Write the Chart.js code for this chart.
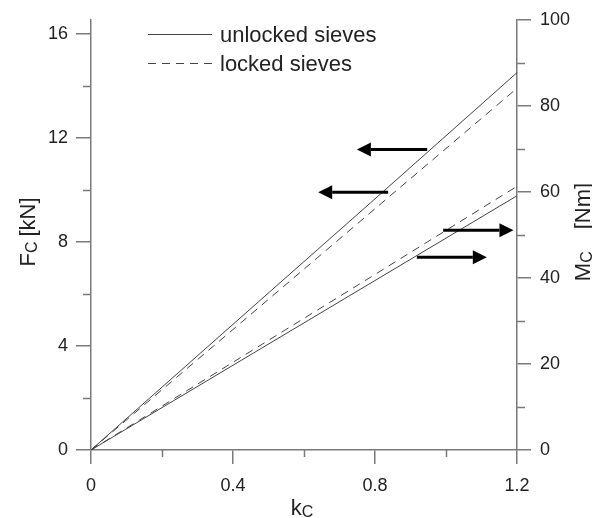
<!DOCTYPE html>
<html>
<head>
<meta charset="utf-8">
<script src="https://cdn.jsdelivr.net/npm/chart.js@4.4.1/dist/chart.umd.min.js"></script>
<style>
    html, body { margin: 0; padding: 0; background: #fff; }
    canvas { display: block; }
</style>
</head>
<body>
<canvas id="grafica" width="592" height="518"></canvas>
<script>
// kc values and read-off forces / moments
const kc = [0, 0.4, 0.8, 1.2];
const fcUnlocked = [0, 4.83, 9.65, 14.5];
const fcLocked = [0, 4.63, 9.27, 13.9];
const mcUnlocked = [0, 19.7, 39.4, 59.1];
const mcLocked = [0, 20.4, 40.8, 61.3];

// axis ranges
const fcMax = 16.53;
const mcMax = 100;
const kcMax = 1.2;

// arrows: which axis each curve pair belongs to
const arrowTail = [0.947, 0.837, 0.992, 0.918];
const arrowTip = [0.749, 0.640, 1.190, 1.115];
const arrowLevel = [11.55, 9.90, 51.1, 44.8];
const arrowAxis = ["yF", "yF", "yM", "yM"];

const LINE = "#444";
const AXIS = "#7a7a7a";
const TEXT = "#222";
const FONT = "'Liberation Sans', Arial, sans-serif";

function puntos(ys) {
    return kc.map((k, i) => ({ x: k, y: ys[i] }));
}

// small ticks between the labelled ones
const minorTicks = {
    id: "minorTicks",
    afterDraw(chart) {
        const ctx = chart.ctx;
        const area = chart.chartArea;
        ctx.save();
        ctx.strokeStyle = AXIS;
        ctx.lineWidth = 1.5;
        const conf = [
            { id: "x", len: 7 },
            { id: "yF", len: 8 },
            { id: "yM", len: 8 },
        ];
        conf.forEach((c) => {
            const s = chart.scales[c.id];
            const t = s.ticks.map((tk) => tk.value);
            for (let i = 0; i < t.length - 1; i++) {
                const v = (t[i] + t[i + 1]) / 2;
                const p = Math.round(s.getPixelForValue(v)) + 0.5;
                ctx.beginPath();
                if (c.id === "x") {
                    ctx.moveTo(p, area.bottom);
                    ctx.lineTo(p, area.bottom + c.len);
                } else if (c.id === "yF") {
                    ctx.moveTo(area.left, p);
                    ctx.lineTo(area.left - c.len, p);
                } else {
                    ctx.moveTo(area.right, p);
                    ctx.lineTo(area.right + c.len, p);
                }
                ctx.stroke();
            }
        });
        ctx.restore();
    },
};

// text with a small subscript, optionally rotated
function textoSub(ctx, main, sub, rest, x, y, rot, size, gap) {
    ctx.save();
    ctx.translate(x, y);
    ctx.rotate(rot);
    ctx.fillStyle = TEXT;
    ctx.textBaseline = "alphabetic";
    ctx.textAlign = "left";
    const subSize = Math.round(size * 0.72);
    ctx.font = size + "px " + FONT;
    const w1 = ctx.measureText(main).width;
    const w3 = ctx.measureText(rest).width;
    ctx.font = subSize + "px " + FONT;
    const w2 = ctx.measureText(sub).width;
    const total = w1 + w2 + (rest ? gap + w3 : 0);
    let cx = -total / 2;
    ctx.font = size + "px " + FONT;
    ctx.fillText(main, cx, 0);
    cx += w1;
    ctx.font = subSize + "px " + FONT;
    ctx.fillText(sub, cx, 2);
    cx += w2 + gap;
    if (rest) {
        ctx.font = size + "px " + FONT;
        ctx.fillText(rest, cx, 0);
    }
    ctx.restore();
}

const titulos = {
    id: "titulos",
    afterDraw(chart) {
        const ctx = chart.ctx;
        textoSub(ctx, "F", "C", "[kN]", 35, 232, -Math.PI / 2, 22, 5);
        textoSub(ctx, "M", "C", "[Nm]", 590, 232, -Math.PI / 2, 22, 22);
        textoSub(ctx, "k", "C", "", 302, 515, 0, 22, 0);
    },
};

const leyenda = {
    id: "leyenda",
    afterDraw(chart) {
        const ctx = chart.ctx;
        const items = chart.data.datasets.filter((d) => d.enLeyenda);
        ctx.save();
        items.forEach((d, i) => {
            const y = 34.5 + i * 29;
            ctx.strokeStyle = LINE;
            ctx.lineWidth = 1;
            ctx.setLineDash(d.borderDash || []);
            ctx.beginPath();
            ctx.moveTo(148, y);
            ctx.lineTo(212, y);
            ctx.stroke();
            ctx.setLineDash([]);
            ctx.fillStyle = TEXT;
            ctx.font = "22px " + FONT;
            ctx.textBaseline = "middle";
            ctx.fillText(d.label, 220, y + 1);
        });
        ctx.restore();
    },
};

const flechas = {
    id: "flechas",
    afterDatasetsDraw(chart) {
        const ctx = chart.ctx;
        const sx = chart.scales.x;
        ctx.save();
        ctx.strokeStyle = "#000";
        ctx.fillStyle = "#000";
        ctx.lineWidth = 3;
        arrowTail.forEach((t, i) => {
            const sy = chart.scales[arrowAxis[i]];
            const x0 = sx.getPixelForValue(t);
            const x1 = sx.getPixelForValue(arrowTip[i]);
            const y = sy.getPixelForValue(arrowLevel[i]);
            const dir = x1 > x0 ? 1 : -1;
            const head = 14;
            ctx.beginPath();
            ctx.moveTo(x0, y);
            ctx.lineTo(x1 - dir * head, y);
            ctx.stroke();
            ctx.beginPath();
            ctx.moveTo(x1, y);
            ctx.lineTo(x1 - dir * head, y - 7);
            ctx.lineTo(x1 - dir * head, y + 7);
            ctx.closePath();
            ctx.fill();
        });
        ctx.restore();
    },
};

const ticksFont = { family: FONT, size: 18 };

new Chart(document.getElementById("grafica").getContext("2d"), {
    type: "line",
    data: {
        datasets: [
            {
                label: "unlocked sieves",
                data: puntos(fcUnlocked),
                yAxisID: "yF",
                borderColor: LINE,
                borderWidth: 1,
                enLeyenda: true,
            },
            {
                label: "locked sieves",
                data: puntos(fcLocked),
                yAxisID: "yF",
                borderColor: LINE,
                borderWidth: 1,
                borderDash: [8, 6],
                enLeyenda: true,
            },
            {
                label: "unlocked sieves (M)",
                data: puntos(mcUnlocked),
                yAxisID: "yM",
                borderColor: LINE,
                borderWidth: 1,
            },
            {
                label: "locked sieves (M)",
                data: puntos(mcLocked),
                yAxisID: "yM",
                borderColor: LINE,
                borderWidth: 1,
                borderDash: [8, 6],
            },
        ],
    },
    options: {
        responsive: false,
        animation: false,
        layout: { padding: { top: 16, left: 0, right: 0, bottom: 0 } },
        elements: { point: { radius: 0 }, line: { tension: 0 } },
        plugins: {
            legend: { display: false },
            tooltip: { enabled: false },
        },
        scales: {
            x: {
                type: "linear",
                min: 0,
                max: kcMax,
                afterFit: (s) => { s.height = 68; },
                ticks: {
                    stepSize: 0.4,
                    color: TEXT,
                    font: ticksFont,
                    padding: 11,
                    maxRotation: 0,
                    callback: (v) => String(+v.toFixed(1)),
                },
                grid: { drawOnChartArea: false, tickLength: 14, color: AXIS, lineWidth: 1.5 },
                border: { color: AXIS, width: 1.5 },
            },
            yF: {
                position: "left",
                min: 0,
                max: fcMax,
                afterFit: (s) => { s.width = 91; },
                ticks: {
                    stepSize: 4,
                    includeBounds: false,
                    color: TEXT,
                    font: ticksFont,
                    padding: 8,
                },
                grid: { drawOnChartArea: false, tickLength: 15, color: AXIS, lineWidth: 1.5 },
                border: { color: AXIS, width: 1.5 },
            },
            yM: {
                position: "right",
                min: 0,
                max: mcMax,
                afterFit: (s) => { s.width = 75; },
                ticks: {
                    stepSize: 20,
                    color: TEXT,
                    font: ticksFont,
                    padding: 9,
                },
                grid: { drawOnChartArea: false, tickLength: 14, color: AXIS, lineWidth: 1.5 },
                border: { color: AXIS, width: 1.5 },
            },
        },
    },
    plugins: [minorTicks, flechas, leyenda, titulos],
});
</script>
</body>
</html>
